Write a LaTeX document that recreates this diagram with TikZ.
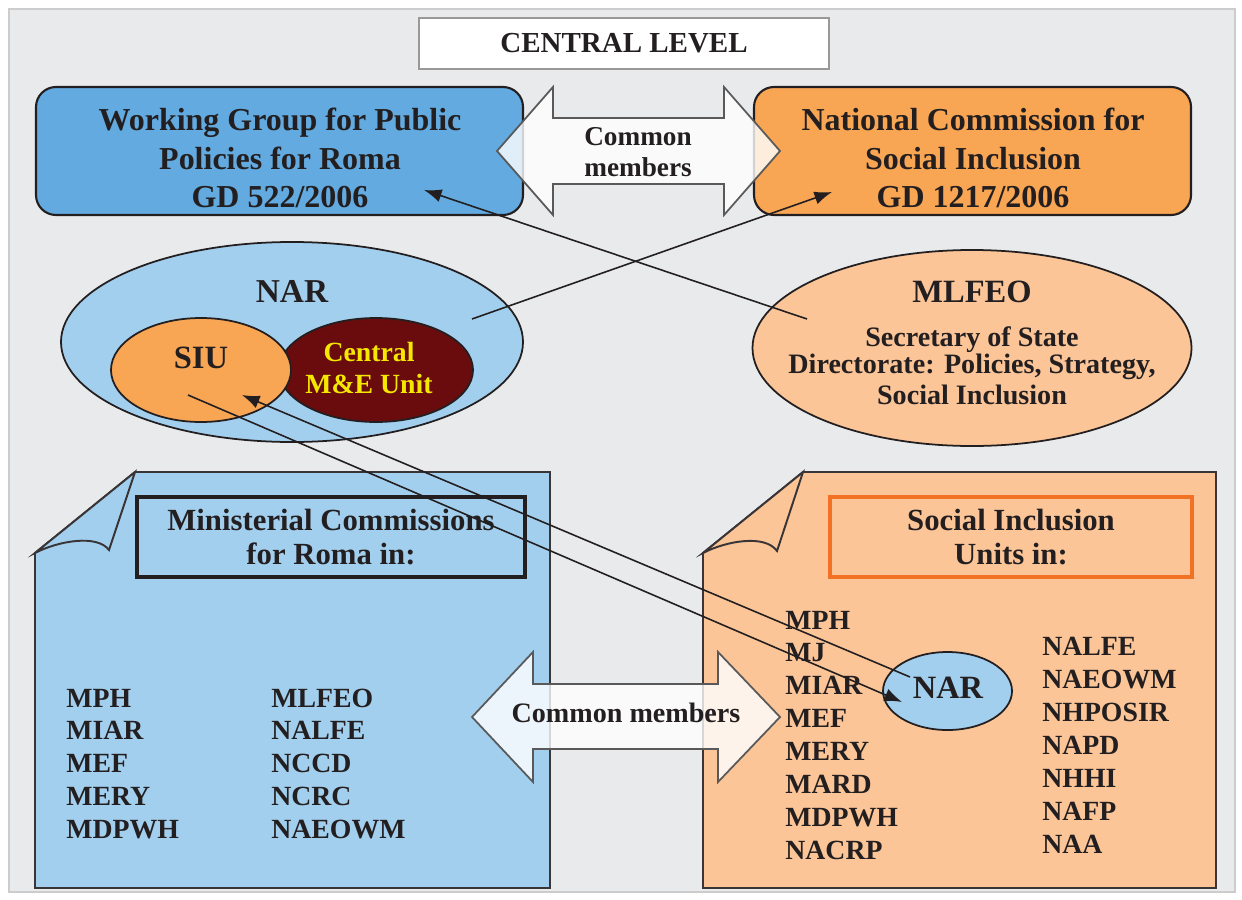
\documentclass[tikz,border=0pt]{standalone}
\usepackage{fontspec}
\setmainfont{Liberation Serif}
\usepackage{xcolor}
\usetikzlibrary{shapes.geometric,arrows.meta}
\tikzset{>={Latex[length=10pt,width=7.5pt]}}
\definecolor{ink}{HTML}{231F20}
\definecolor{bggray}{HTML}{E9EAEC}
\definecolor{wgblue}{HTML}{62AADF}
\definecolor{ncorange}{HTML}{F8A554}
\definecolor{paleblue}{HTML}{A3CFEE}
\definecolor{paleorange}{HTML}{FBC598}
\definecolor{mered}{HTML}{6A0C0E}
\definecolor{meyellow}{HTML}{F4E700}
\definecolor{siborder}{HTML}{F37124}
\tikzset{
  hdr/.style={font=\fontsize{18.2}{22}\selectfont\bfseries, align=center, text=ink},
  sub/.style={font=\fontsize{17.5}{19.8}\selectfont\bfseries, align=center, text=ink},
  item/.style={font=\fontsize{15.8}{19}\selectfont\bfseries, anchor=base west, inner sep=0pt, text=ink},
  blob/.style={ellipse, draw=ink, line width=1pt, inner sep=0pt},
  link/.style={->, line width=0.9pt, draw=ink},
  twoway/.style={draw=black!65, line width=1pt, fill=white, fill opacity=0.8},
  docline/.style={draw=ink!90, line width=1.1pt}
}

\begin{document}
\begin{tikzpicture}[x=0.2mm,y=-0.2mm]
  \useasboundingbox (0,0) rectangle (1242,899);
  \filldraw[fill=bggray, draw=black!20, line width=0.6pt] (9,9) rectangle (1235,892);

  % central level
  \node[draw=black!40, line width=1.2pt, fill=white, minimum width=82mm, minimum height=10.2mm,
        font=\fontsize{16.5}{20}\selectfont\bfseries, text=ink] (central) at (624,43.5) {CENTRAL LEVEL};

  \node[draw=ink, line width=1.2pt, rounded corners=4mm, fill=wgblue, minimum width=97.4mm, minimum height=25.6mm] (wg) at (279.5,151) {};
  \node[hdr] (wgtext) at (280,158) {Working Group for Public\\Policies for Roma\\GD 522/2006};
  \node[draw=ink, line width=1.2pt, rounded corners=4mm, fill=ncorange, minimum width=87.4mm, minimum height=25.6mm] (ncsi) at (972.5,151) {};
  \node[hdr] (ncsitext) at (973,158) {National Commission for\\Social Inclusion\\GD 1217/2006};

  \filldraw[twoway] (497,151) -- (553,87) -- (553,118) -- (724,118) -- (724,87) -- (780,151)
    -- (724,215) -- (724,184) -- (553,184) -- (553,215) -- cycle;
  \node[font=\fontsize{15.5}{18}\selectfont\bfseries, align=center, text=ink] (commontop) at (638,152) {Common\\members};

  % NAR
  \node[blob, fill=paleblue, minimum width=92.4mm, minimum height=40mm] (nar) at (292,342) {};
  \node[font=\fontsize{19}{22}\selectfont\bfseries, text=ink] (nartext) at (292,291) {NAR};
  \node[blob, fill=mered, minimum width=38.8mm, minimum height=20.8mm] (me) at (376,370) {};
  \node[blob, fill=ncorange, minimum width=36mm, minimum height=20.8mm] (siu) at (201,370) {};
  \node[font=\fontsize{18.5}{22}\selectfont\bfseries, text=ink] (siutext) at (201,358) {SIU};
  \node[font=\fontsize{15.8}{18}\selectfont\bfseries, text=meyellow, align=center] (metext) at (369,368) {Central\\M\&E Unit};

  % MLFEO
  \node[blob, fill=paleorange, minimum width=87.8mm, minimum height=39.2mm] (mlfeo) at (972,348) {};
  \node[font=\fontsize{18.5}{22}\selectfont\bfseries, text=ink] (mlfeotitle) at (972,292) {MLFEO};
  \node[font=\fontsize{16}{18}\selectfont\bfseries, text=ink, align=center] (mlfeosub) at (972,366)
    {Secretary of State\\[-3pt]Directorate: Policies, Strategy,\\Social Inclusion};

  % ministerial commissions
  \filldraw[docline, fill=paleblue] (135,472) -- (550,472) -- (550,888) -- (35,888) -- (35,553) -- cycle;
  \filldraw[docline, fill=paleblue] (35,553) .. controls (58,541) and (97,534) .. (109,550) -- (135,472) -- cycle;
  \node[sub, draw=ink, line width=1.8pt, minimum width=77.6mm, minimum height=16mm] (mcr) at (331,537) {Ministerial Commissions\\for Roma in:};
  \foreach \name [count=\i] in {MPH,MIAR,MEF,MERY,MDPWH}
    \node[item] (mcra\i) at (66,{707+32.75*(\i-1)}) {\name};
  \foreach \name [count=\i] in {MLFEO,NALFE,NCCD,NCRC,NAEOWM}
    \node[item] (mcrb\i) at (271,{707+32.75*(\i-1)}) {\name};

  % social inclusion units
  \filldraw[docline, fill=paleorange] (803,472) -- (1216,472) -- (1216,888) -- (703,888) -- (703,553) -- cycle;
  \filldraw[docline, fill=paleorange] (703,553) .. controls (726,541) and (765,534) .. (777,551) -- (803,472) -- cycle;
  \node[sub, draw=siborder, line width=2.2pt, minimum width=72.4mm, minimum height=16mm] (siunits) at (1011,537) {Social Inclusion\\Units in:};
  \foreach \name [count=\i] in {MPH,MJ,MIAR,MEF,MERY,MARD,MDPWH,NACRP}
    \node[item] (siua\i) at (785,{629+32.86*(\i-1)}) {\name};
  \foreach \name [count=\i] in {NALFE,NAEOWM,NHPOSIR,NAPD,NHHI,NAFP,NAA}
    \node[item] (siub\i) at (1042,{655+33*(\i-1)}) {\name};
  \node[blob, fill=paleblue, minimum width=25.8mm, minimum height=15.6mm] (narunit) at (947.5,691) {};
  \node[font=\fontsize{18.5}{22}\selectfont\bfseries, text=ink] (naruntext) at (948,688) {NAR};

  \filldraw[twoway] (472,717) -- (533,652) -- (533,684) -- (718,684) -- (718,652) -- (780,717)
    -- (718,782) -- (718,749) -- (533,749) -- (533,782) -- cycle;
  \node[font=\fontsize{16}{19}\selectfont\bfseries, text=ink] (commonbottom) at (626,713) {Common members};

  % links
  \coordinate (mlfeo-tail) at (807,319);
  \coordinate (wg-tip) at (424,190);
  \coordinate (nar-tail) at (472,319);
  \coordinate (ncsi-tip) at (832,192);
  \coordinate (siu-tail) at (188,395);
  \coordinate (siu-tip) at (242,395);
  \coordinate (narunit-tail) at (910,677);
  \coordinate (narunit-tip) at (902,702);
  \draw[link] (mlfeo-tail) -- (wg-tip);
  \draw[link] (nar-tail) -- (ncsi-tip);
  \draw[link] (siu-tail) -- (narunit-tip);
  \draw[link] (narunit-tail) -- (siu-tip);
\end{tikzpicture}
\end{document}
